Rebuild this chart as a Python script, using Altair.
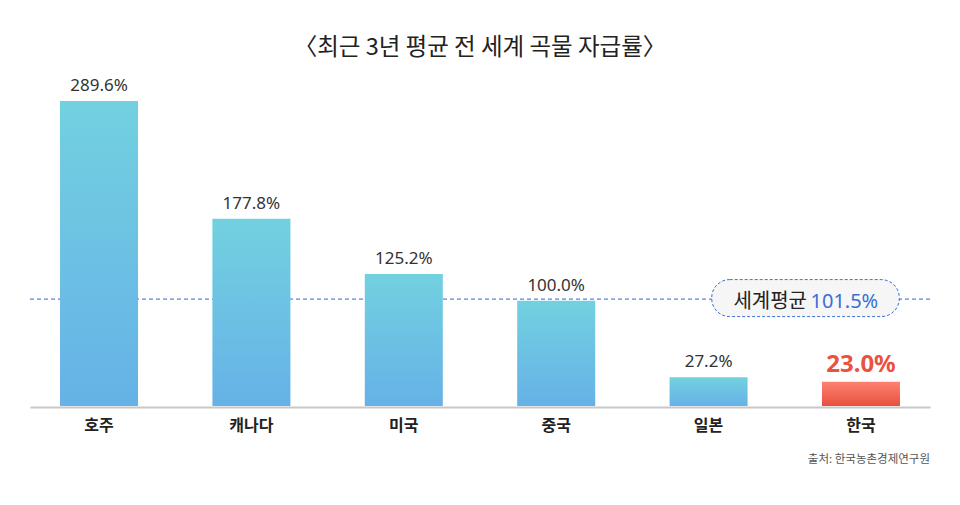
import altair as alt
import pandas as pd

# ---- data ----
countries = ["호주", "캐나다", "미국", "중국", "일본", "한국"]
rates = [289.6, 177.8, 125.2, 100.0, 27.2, 23.0]
rate_labels = ["289.6%", "177.8%", "125.2%", "100.0%", "27.2%", "23.0%"]
is_korea = [False, False, False, False, False, True]

world_avg = [101.5]
world_name = ["세계평균"]
world_value_label = ["101.5%"]

title_text = "〈최근 3년 평균 전 세계 곡물 자급률〉"
source_text = ["출처: 한국농촌경제연구원"]

df = pd.DataFrame({"country": countries, "rate": rates, "label": rate_labels, "korea": is_korea})
avg_df = pd.DataFrame({"avg": world_avg, "name": world_name, "vlabel": world_value_label})
src_df = pd.DataFrame({"t": source_text})

KR = "Noto Sans CJK KR"
NUM = "Noto Sans, Noto Sans CJK KR"

yscale = alt.Scale(domain=[0, 300])
x = alt.X(
    "country:N",
    sort=countries,
    scale=alt.Scale(paddingInner=0.488, paddingOuter=0.197),
    axis=alt.Axis(
        title=None, labelAngle=0, ticks=False, tickSize=0, grid=False,
        domainColor="#c8c8c8", domainWidth=2, offset=1,
        labelPadding=18, labelBaseline="middle", labelFont=KR,
        labelFontSize=16, labelFontWeight="bold", labelColor="#222222",
    ),
)
y = alt.Y("rate:Q", scale=yscale, axis=None)

blue = alt.Gradient(
    gradient="linear",
    stops=[alt.GradientStop(color="#72d1e0", offset=0), alt.GradientStop(color="#66b1e7", offset=1)],
    x1=0, x2=0, y1=0, y2=1,
)
red = alt.Gradient(
    gradient="linear",
    stops=[alt.GradientStop(color="#fe8272", offset=0), alt.GradientStop(color="#e8503e", offset=1)],
    x1=0, x2=0, y1=0, y2=1,
)

base = alt.Chart(df)

avg_rule = alt.Chart(avg_df).mark_rule(color="#2f64d0", strokeDash=[4, 3], strokeWidth=1).encode(
    y=alt.Y("avg:Q", scale=yscale, axis=None)
)

bars_blue = base.transform_filter("!datum.korea").mark_bar(color=blue).encode(x=x, y=y)
bars_red = base.transform_filter("datum.korea").mark_bar(color=red).encode(x=x, y=y)

labels_blue = base.transform_filter("!datum.korea").mark_text(
    font=NUM, fontSize=17, color="#333333", dy=-10, baseline="alphabetic"
).encode(x=x, y=y, text="label:N")
labels_red = base.transform_filter("datum.korea").mark_text(
    font=NUM, fontSize=24, fontWeight="bold", color="#e9523f", dy=-10, baseline="alphabetic",
).encode(x=x, y=y, text="label:N")

bubble = alt.Chart(avg_df).mark_rect(
    fill="#f6f6f6", stroke="#3f6fd6", strokeDash=[3, 2], strokeWidth=1,
    cornerRadius=18, yOffset=-19.5, y2Offset=17.5,
).encode(
    x=alt.value(681.7), x2=alt.value(869.3),
    y=alt.Y("avg:Q", scale=yscale, axis=None), y2="avg:Q",
)
bubble_name = alt.Chart(avg_df).mark_text(
    font=KR, fontSize=20, color="#222222", align="right", baseline="alphabetic", dy=8.5
).encode(x=alt.value(777), y=alt.Y("avg:Q", scale=yscale, axis=None), text="name:N")
bubble_value = alt.Chart(avg_df).mark_text(
    font=NUM, fontSize=20, color="#3a6fd6", align="left", baseline="alphabetic", dy=8.5
).encode(x=alt.value(780.5), y=alt.Y("avg:Q", scale=yscale, axis=None), text="vlabel:N")

source = alt.Chart(src_df).mark_text(
    font=KR, fontSize=11.5, color="#555555", align="right", baseline="middle"
).encode(x=alt.value(900), y=alt.value(370), text="t:N")

chart = alt.layer(
    avg_rule, bars_blue, bars_red, labels_blue, labels_red, bubble, bubble_name, bubble_value, source
).properties(
    width=900,
    height=316,
    title=alt.TitleParams(
        text=title_text, anchor="middle", frame="group", font=KR, fontSize=23.5, fontWeight="normal",
        color="#222222", baseline="alphabetic", offset=31, dy=33,
    ),
    padding={"left": 22, "top": 82, "right": 22, "bottom": 91},
    autosize=alt.AutoSizeParams(type="none"),
).configure_view(stroke=None)

chart.save("out.html", embed_options={"renderer": "svg", "actions": False})
